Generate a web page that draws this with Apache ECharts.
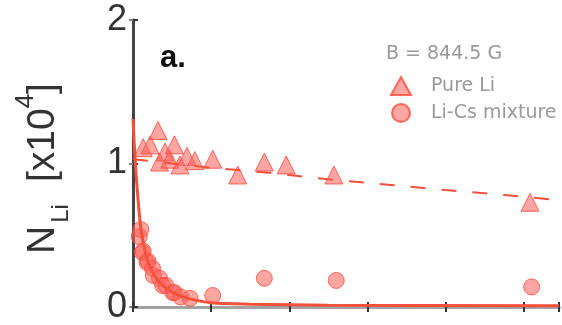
<!DOCTYPE html>
<html>
<head>
<meta charset="utf-8">
<script src="https://cdn.jsdelivr.net/npm/echarts@6/dist/echarts.min.js"></script>
<style>
  html, body { margin: 0; padding: 0; background: #fff; }
  #chart { width: 562px; height: 325px; }
</style>
</head>
<body>
<div id="chart"></div>
<script>
// values (x in tick units, y in units of 10^4 atoms)
const pureLiX = [0.13, 0.22, 0.32, 0.34, 0.41, 0.47, 0.53, 0.60, 0.69, 0.79, 1.02, 1.34, 1.68, 1.96, 2.57, 5.08];
const pureLiY = [1.11, 1.13, 1.23, 1.01, 1.08, 1.03, 1.13, 0.99, 1.05, 1.02, 1.03, 0.92, 1.01, 0.99, 0.92, 0.73];

const mixX = [0.08, 0.10, 0.12, 0.13, 0.18, 0.19, 0.25, 0.26, 0.34, 0.38, 0.42, 0.51, 0.53, 0.61, 0.73, 1.02, 1.68, 2.60, 5.10];
const mixY = [0.49, 0.54, 0.38, 0.39, 0.31, 0.32, 0.27, 0.22, 0.20, 0.15, 0.15, 0.10, 0.10, 0.07, 0.06, 0.08, 0.20, 0.185, 0.14];

// fitted curves
const pureFitX = [0, 0.5, 1, 1.75, 2.5, 3.3, 4, 4.75, 5.45];
const pureFitY = [1.03, 1.0, 0.97, 0.935, 0.89, 0.85, 0.815, 0.78, 0.745];
const mixFitX = [0, 0.03, 0.06, 0.1, 0.15, 0.2, 0.3, 0.4, 0.55, 0.7, 1, 1.5, 2.5, 5.45];
const mixFitY = [1.31, 1.0, 0.78, 0.55, 0.4, 0.3, 0.2, 0.14, 0.09, 0.06, 0.03, 0.02, 0.012, 0.008];

const yTicks = [0, 1, 2];

const chart = echarts.init(document.getElementById('chart'));
const red = '#f5503a';
const pointStyle = { color: 'rgba(255, 95, 90, 0.7)', borderColor: '#ff4a3a', borderWidth: 1 };
const zip = (xs, ys) => xs.map((x, i) => [x, ys[i]]);
const font = 'Liberation Sans';

chart.setOption({
  animation: false,
  grid: { left: 133, top: 20, right: 3, bottom: 13 },
  xAxis: [
    {
      type: 'value', min: 0, max: 5.45, interval: 1,
      axisLine: { lineStyle: { color: '#666', width: 3 } },
      axisTick: { inside: true, length: 5, lineStyle: { color: '#333', width: 2 } },
      axisLabel: { show: false },
      splitLine: { show: false },
    },
    {
      type: 'value', position: 'top', min: 0, max: 5.45, interval: 1,
      axisLine: { lineStyle: { color: '#a3a3a3', width: 3 } },
      axisTick: { inside: true, length: 5, lineStyle: { color: '#333', width: 2 } },
      axisLabel: { show: false },
      splitLine: { show: false },
    },
  ],
  yAxis: [
    {
      type: 'value', min: yTicks[0], max: yTicks[yTicks.length - 1], interval: 1,
      axisLine: { lineStyle: { color: '#444', width: 3 } },
      axisTick: { inside: true, length: 5, lineStyle: { color: '#333', width: 2 } },
      axisLabel: { color: '#333', fontSize: 36, fontFamily: font, margin: 6 },
      splitLine: { show: false },
      name: '{a|N}{s|Li}{a|[x10}{p|4}{b|]}',
      nameLocation: 'middle',
      nameRotate: 90,
      nameGap: 60,
      nameTextStyle: {
        rich: {
          a: { fontSize: 39, color: '#333', fontFamily: font, lineHeight: 60, verticalAlign: 'middle' },
          b: { fontSize: 39, color: '#333', fontFamily: font, lineHeight: 60, verticalAlign: 'middle', padding: [0, 10, 0, 0] },
          s: { fontSize: 24, color: '#333', fontFamily: font, lineHeight: 24, verticalAlign: 'bottom', padding: [0, 22, 0, 3] },
          p: { fontSize: 26, color: '#333', fontFamily: font, lineHeight: 26, verticalAlign: 'top' },
        },
      },
    },
    {
      type: 'value', position: 'right', min: 0, max: 2, interval: 1,
      axisLine: { show: false },
      axisTick: { inside: true, length: 4, lineStyle: { color: '#888', width: 2 } },
      axisLabel: { show: false },
      splitLine: { show: false },
    },
  ],
  legend: {
    orient: 'vertical', left: 385, top: 71,
    itemWidth: 20, itemHeight: 18, itemGap: 7,
    data: ['Pure Li', 'Li-Cs mixture'],
    textStyle: { color: '#999', fontSize: 19, fontFamily: 'DejaVu Sans', lineHeight: 18, padding: [0, 0, 0, 15] },
  },
  graphic: [
    { type: 'text', left: 386, top: 45, style: { text: 'B = 844.5 G', fill: '#999', font: '19px DejaVu Sans' } },
    { type: 'text', left: 160, top: 43, style: { text: 'a.', fill: '#111', font: 'bold 31px Liberation Sans' } },
  ],
  series: [
    {
      name: 'Pure Li fit', type: 'line', showSymbol: false, silent: true,
      data: zip(pureFitX, pureFitY),
      lineStyle: { color: red, width: 2, type: [15, 16] },
    },
    {
      name: 'Li-Cs fit', type: 'line', showSymbol: false, silent: true, smooth: 0.3,
      data: zip(mixFitX, mixFitY),
      lineStyle: { color: red, width: 3 },
    },
    {
      name: 'Pure Li', type: 'scatter', symbol: 'triangle', symbolSize: 18,
      data: zip(pureLiX, pureLiY), itemStyle: pointStyle,
    },
    {
      name: 'Li-Cs mixture', type: 'scatter', symbol: 'circle', symbolSize: 16,
      data: zip(mixX, mixY), itemStyle: pointStyle,
    },
  ],
});
</script>
</body>
</html>
